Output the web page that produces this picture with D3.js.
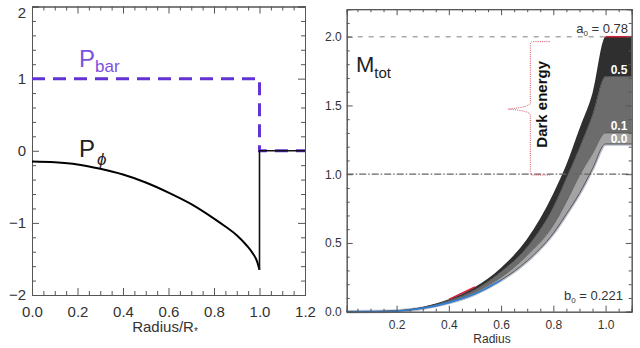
<!DOCTYPE html>
<html><head><meta charset="utf-8">
<script src="https://cdn.jsdelivr.net/npm/d3@7"></script>
<style>body{margin:0;background:#fff}svg{display:block}</style>
</head><body>
<svg id="c" width="640" height="348"></svg>
<script>
// ---------- Left panel data ----------
const phiR = [0, 0.1, 0.2, 0.3, 0.4, 0.5, 0.6, 0.7, 0.8, 0.85, 0.9, 0.94, 0.97, 0.99, 1.0];
const phiV = [-0.15, -0.16, -0.19, -0.25, -0.33, -0.44, -0.58, -0.74, -0.94, -1.05, -1.17, -1.3, -1.42, -1.54, -1.65];
const phiStepR = [1.0, 1.0, 1.2];
const phiStepV = [-1.65, 0, 0];
const barR = [0, 1.0, 1.0, 1.2];
const barV = [1, 1, 0, 0];
const leftXTicks = [0, 0.2, 0.4, 0.6, 0.8, 1.0, 1.2];
const leftXLabels = ["0.0", "0.2", "0.4", "0.6", "0.8", "1.0", "1.2"];
const leftYTicks = [-2, -1, 0, 1, 2];
const leftYLabels = ["\u22122", "\u22121", "0", "1", "2"];

// ---------- Right panel data ----------
const radius = [0.009, 0.1, 0.2, 0.3, 0.4, 0.5, 0.6, 0.7, 0.8, 0.85, 0.9, 0.95, 1.0, 1.1];
const mA078 = [0, 0.001, 0.008, 0.035, 0.09, 0.18, 0.32, 0.53, 0.86, 1.07, 1.33, 1.59, 2.0, 2.0];
const mB05  = [0, 0.001, 0.007, 0.031, 0.081, 0.16, 0.29, 0.47, 0.76, 0.97, 1.19, 1.43, 1.71, 1.71];
const mB01  = [0, 0.001, 0.006, 0.028, 0.072, 0.142, 0.25, 0.41, 0.63, 0.80, 0.99, 1.15, 1.30, 1.30];
const mB00  = [0, 0.001, 0.005, 0.025, 0.066, 0.13, 0.23, 0.37, 0.57, 0.71, 0.86, 1.04, 1.22, 1.22];
const bandLabels = ["0.5", "0.1", "0.0"];
const blueRange = [0.009, 0.64];
const redRanges = [[0.38, 0.53], [1.0, 1.1]];
const rightXTicks = [0.2, 0.4, 0.6, 0.8, 1.0];
const rightXLabels = ["0.2", "0.4", "0.6", "0.8", "1.0"];
const rightYTicks = [0, 0.5, 1.0, 1.5, 2.0];
const rightYLabels = ["0.0", "0.5", "1.0", "1.5", "2.0"];
const refLevels = [1.0, 2.0];
const braceR = [0.786, 0.712, 0.627];
const braceV = [1.964, 1.474, 0.994];

const svg = d3.select("#c");
const FONT = "'Liberation Sans', Arial, sans-serif";

// ================= LEFT PANEL =================
const xL = d3.scaleLinear().domain([0, 1.2]).range([32, 305]);
const yL = d3.scaleLinear().domain([-2, 2]).range([295, 6.5]);
const gL = svg.append("g");

function frameAxes(g, x, y, o) {
  const [x0, x1] = x.range(), [y0, y1] = y.range();
  const mk = (axis, tr) => {
    const a = g.append("g").attr("transform", tr).call(axis);
    a.select(".domain").attr("stroke", "#555");
    a.selectAll(".tick line").attr("stroke", "#555");
    return a;
  };
  mk(d3.axisBottom(x).tickValues(o.xMinor).tickSize(-o.minLen).tickFormat(""), `translate(0,${y0})`);
  mk(d3.axisTop(x).tickValues(o.xMinor).tickSize(-o.minLen).tickFormat(""), `translate(0,${y1})`);
  mk(d3.axisLeft(y).tickValues(o.yMinor).tickSize(-o.minLen).tickFormat(""), `translate(${x0},0)`);
  mk(d3.axisRight(y).tickValues(o.yMinor).tickSize(-o.minLen).tickFormat(""), `translate(${x1},0)`);
  const bx = mk(d3.axisBottom(x).tickValues(o.xTicks).tickSize(-o.majLen).tickPadding(o.xPad)
      .tickFormat((d, i) => o.xLabels[i]), `translate(0,${y0})`);
  mk(d3.axisTop(x).tickValues(o.xTicks).tickSize(-o.majLen).tickFormat(""), `translate(0,${y1})`);
  const ly = mk(d3.axisLeft(y).tickValues(o.yTicks).tickSize(-o.majLen).tickPadding(o.yPad)
      .tickFormat((d, i) => o.yLabels[i]), `translate(${x0},0)`);
  mk(d3.axisRight(y).tickValues(o.yTicks).tickSize(-o.majLen).tickFormat(""), `translate(${x1},0)`);
  [bx, ly].forEach(a => a.selectAll("text").attr("font-family", FONT)
      .attr("font-size", o.fs).attr("fill", "#333"));
  return ly;
}

const lyL = frameAxes(gL, xL, yL, {
  xTicks: leftXTicks, xLabels: leftXLabels,
  xMinor: d3.range(0, 1.2001, 0.05).filter(v => Math.abs(v / 0.2 - Math.round(v / 0.2)) > 1e-6),
  yTicks: leftYTicks, yLabels: leftYLabels,
  yMinor: d3.range(-2, 2.001, 0.2).filter(v => Math.abs(v - Math.round(v)) > 1e-6),
  majLen: 7, minLen: 4, xPad: 11, yPad: 6, fs: 15
});
// top label sits a little below its tick, as in the original
lyL.selectAll(".tick").filter(d => d === 2).select("text").attr("dy", "0.72em");

// P_bar dashed
gL.append("path")
  .attr("d", d3.line().x((d, i) => xL(barR[i])).y((d, i) => yL(barV[i]))(barR))
  .attr("fill", "none").attr("stroke", "#6232d4").attr("stroke-width", 3)
  .attr("stroke-dasharray", "13,8");
// P_phi curve
gL.append("path")
  .attr("d", d3.line().curve(d3.curveMonotoneX).x((d, i) => xL(phiR[i])).y((d, i) => yL(phiV[i]))(phiR))
  .attr("fill", "none").attr("stroke", "#000").attr("stroke-width", 2);
gL.append("path")
  .attr("d", d3.line().x((d, i) => xL(phiStepR[i])).y((d, i) => yL(phiStepV[i]))(phiStepR))
  .attr("fill", "none").attr("stroke", "#111").attr("stroke-width", 1.6);

const pb = gL.append("text").attr("x", 79).attr("y", 67).attr("font-family", FONT).attr("fill", "#7b52e0");
pb.append("tspan").attr("font-size", 24).text("P");
pb.append("tspan").attr("font-size", 17).attr("dy", 5).text("bar");
const pp = gL.append("text").attr("x", 79).attr("y", 157).attr("font-family", FONT).attr("fill", "#222");
pp.append("tspan").attr("font-size", 24).text("P");
pp.append("tspan").attr("font-size", 17).attr("font-style", "italic").attr("dx", 2).attr("dy", 8).text("\u03d5");

const xt = gL.append("text").attr("x", 165).attr("y", 332).attr("text-anchor", "middle")
  .attr("font-family", FONT).attr("font-size", 15).attr("fill", "#333");
xt.append("tspan").text("Radius/R");
xt.append("tspan").attr("font-size", 10).attr("dy", 3).text("*");

// ================= RIGHT PANEL =================
const xR = d3.scaleLinear().domain([0.009, 1.1]).range([346.7, 631.7]);
const yR = d3.scaleLinear().domain([0, 2.2]).range([311.7, 9.2]);
const gR = svg.append("g");

const band = (lo, hi) => d3.area().curve(d3.curveMonotoneX)
  .x((d, i) => xR(radius[i])).y0((d, i) => yR(lo[i])).y1((d, i) => yR(hi[i]))(radius);
const curve = (arr, keep) => d3.line().curve(d3.curveMonotoneX)
  .defined((d, i) => !keep || (radius[i] >= keep[0] - 1e-9 && radius[i] <= keep[1] + 1e-9))
  .x((d, i) => xR(radius[i])).y((d, i) => yR(arr[i]))(radius);

gR.append("line").attr("x1", xR(0.009)).attr("x2", xR(1.0))
  .attr("y1", yR(refLevels[1])).attr("y2", yR(refLevels[1]))
  .attr("stroke", "#aaa").attr("stroke-width", 1.5).attr("stroke-dasharray", "5,6");

gR.append("path").attr("d", curve(mB00)).attr("fill", "none").attr("stroke", "#b9c0cc").attr("stroke-width", 3.5);
gR.append("path").attr("d", band(mB05, mA078)).attr("fill", "#2f2f2f");
gR.append("path").attr("d", band(mB01, mB05)).attr("fill", "#6c6c6c");
gR.append("path").attr("d", band(mB00, mB01)).attr("fill", "#a3a3a3");
gR.append("path").attr("d", curve(mB05)).attr("fill", "none").attr("stroke", "#444").attr("stroke-width", 0.8);
gR.append("path").attr("d", curve(mB01)).attr("fill", "none").attr("stroke", "#555").attr("stroke-width", 0.8);
gR.append("path").attr("d", curve(mB00)).attr("fill", "none").attr("stroke", "#555").attr("stroke-width", 1);
gR.append("path").attr("d", curve(mB00, blueRange)).attr("fill", "none").attr("stroke", "#2f7fd8").attr("stroke-width", 1.6);
redRanges.forEach(rg => gR.append("path").attr("d", curve(mA078, rg))
  .attr("fill", "none").attr("stroke", "#d0203a").attr("stroke-width", 1.5));

gR.append("line").attr("x1", xR(0.009)).attr("x2", xR(1.1))
  .attr("y1", yR(refLevels[0])).attr("y2", yR(refLevels[0]))
  .attr("stroke", "#666").attr("stroke-width", 1.2).attr("stroke-dasharray", "7,2,1.5,2");

frameAxes(gR, xR, yR, {
  xTicks: rightXTicks, xLabels: rightXLabels,
  xMinor: d3.range(0.05, 1.1001, 0.05).filter(v => Math.abs(v / 0.2 - Math.round(v / 0.2)) > 1e-6),
  yTicks: rightYTicks, yLabels: rightYLabels,
  yMinor: d3.range(0.1, 2.2001, 0.1).filter(v => Math.abs(v / 0.5 - Math.round(v / 0.5)) > 1e-6),
  majLen: 6, minLen: 3, xPad: 9, yPad: 5, fs: 12
});

const bandEnds = [mB05, mB01, mB00].map(a => a[a.length - 1]);
const labOff = [0.05, 0.05, 0.035];
bandLabels.forEach((t, i) => gR.append("text").attr("x", 619).attr("y", yR(bandEnds[i] + labOff[i]))
  .attr("dy", "0.35em").attr("text-anchor", "middle").attr("font-family", FONT)
  .attr("font-weight", "bold").attr("font-size", 12).attr("fill", "#fff").text(t));

const a0 = gR.append("text").attr("x", 628).attr("y", 33).attr("text-anchor", "end")
  .attr("font-family", FONT).attr("font-size", 13).attr("fill", "#333");
a0.append("tspan").text("a");
a0.append("tspan").attr("font-size", 8).attr("dy", 3).text("0");
a0.append("tspan").attr("dy", -3).text(" = 0.78");
const b0 = gR.append("text").attr("x", 623).attr("y", 300).attr("text-anchor", "end")
  .attr("font-family", FONT).attr("font-size", 13).attr("fill", "#333");
b0.append("tspan").text("b");
b0.append("tspan").attr("font-size", 8).attr("dy", 3).text("0");
b0.append("tspan").attr("dy", -3).text(" = 0.221");

const mt = gR.append("text").attr("x", 356).attr("y", 72).attr("font-family", FONT).attr("fill", "#222");
mt.append("tspan").attr("font-size", 22).text("M");
mt.append("tspan").attr("font-size", 15).attr("dy", 6).text("tot");

const bx0 = xR(braceR[0]), bx1 = xR(braceR[1]), bx2 = xR(braceR[2]);
const by0 = yR(braceV[0]), byt = yR(braceV[1]), by1 = yR(braceV[2]);
const bp = d3.path();
bp.moveTo(bx0, by0); bp.lineTo(bx1 + 2, by0); bp.quadraticCurveTo(bx1, by0, bx1, by0 + 3);
bp.lineTo(bx1, byt - 6); bp.quadraticCurveTo(bx1, byt - 2, bx2, byt);
bp.quadraticCurveTo(bx1, byt + 2, bx1, byt + 6);
bp.lineTo(bx1, by1 - 3); bp.quadraticCurveTo(bx1, by1, bx1 + 2, by1); bp.lineTo(bx0, by1);
gR.append("path").attr("d", bp.toString()).attr("fill", "none").attr("stroke", "#d04a5a")
  .attr("stroke-width", 1).attr("stroke-dasharray", "1,1.2");
gR.append("text").attr("transform", `translate(547,${(by0 + by1) / 2 - 4}) rotate(-90)`)
  .attr("text-anchor", "middle").attr("font-family", FONT).attr("font-weight", "bold")
  .attr("font-size", 15).attr("fill", "#111").text("Dark energy");

gR.append("text").attr("x", 492).attr("y", 342.5).attr("text-anchor", "middle")
  .attr("font-family", FONT).attr("font-size", 12).attr("fill", "#333").text("Radius");
</script>
</body></html>
